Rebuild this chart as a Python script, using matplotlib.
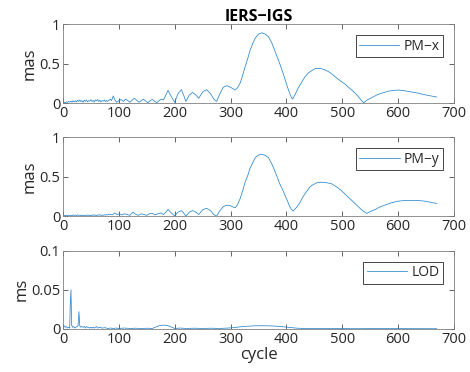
import numpy as np
import matplotlib
matplotlib.use("Agg")
import matplotlib.pyplot as plt

plt.rcParams["font.family"] = ["Open Sans", "DejaVu Sans"]

# Amplitude spectra of EOP differences (IERS minus IGS), read per cycle
pmx_cycle = [
    0, 2, 4, 6, 8, 10, 12, 14, 16, 18, 20, 22, 24, 26, 28, 30, 32, 34, 36, 38,
    40, 42, 44, 46, 48, 50, 52, 54, 56, 58, 60, 62, 64, 66, 68, 70, 72, 74, 76, 78,
    80, 82, 85, 87, 90, 93, 96, 100, 104, 108, 112, 116, 120, 124, 128, 132, 136,
    140, 144, 148, 152, 156, 160, 164, 168, 172, 176, 180, 184,
    188, 194, 200, 206, 212, 216, 220, 226, 232, 238, 243, 250, 257, 264, 270, 275,
    281, 287, 293, 300, 308, 312, 317, 322, 326, 331, 335, 340, 344, 350, 356, 362,
    368, 374, 380, 384, 388, 393, 397, 402, 406, 409, 411, 415, 421, 427, 433, 439,
    445, 451, 457, 463, 469, 475, 481, 487, 493, 499, 505, 511, 517, 523, 529, 534,
    538, 545, 553, 558, 564, 573, 582, 591, 600, 612, 624, 636, 648, 659, 669,
]
pmx_amp = [
    0.000, 0.010, 0.004, 0.015, 0.008, 0.020, 0.012, 0.025, 0.010, 0.030, 0.015,
    0.028, 0.012, 0.035, 0.020, 0.040, 0.018, 0.030, 0.010, 0.035, 0.022, 0.038,
    0.015, 0.030, 0.025, 0.042, 0.020, 0.033, 0.012, 0.040, 0.030, 0.045, 0.020,
    0.036, 0.015, 0.030, 0.025, 0.040, 0.018, 0.032, 0.020, 0.035, 0.050, 0.030,
    0.090, 0.040, 0.010, 0.030, 0.045, 0.020, 0.050, 0.030, 0.010, 0.040, 0.060,
    0.035, 0.010, 0.030, 0.050, 0.025, 0.005, 0.030, 0.045, 0.020, 0.005, 0.030,
    0.050, 0.040, 0.100,
    0.160, 0.080, 0.010, 0.120, 0.170, 0.100, 0.020, 0.100, 0.135, 0.100, 0.060,
    0.140, 0.170, 0.120, 0.050, 0.020, 0.120, 0.200, 0.220, 0.200, 0.165, 0.190,
    0.250, 0.360, 0.460, 0.570, 0.670, 0.760, 0.820, 0.875, 0.890, 0.875, 0.840,
    0.760, 0.650, 0.575, 0.500, 0.400, 0.310, 0.200, 0.120, 0.070, 0.050, 0.100,
    0.190, 0.260, 0.330, 0.380, 0.410, 0.435, 0.440, 0.435, 0.420, 0.400, 0.370,
    0.335, 0.300, 0.270, 0.240, 0.200, 0.165, 0.125, 0.080, 0.035, 0.005, 0.040,
    0.070, 0.090, 0.110, 0.130, 0.150, 0.160, 0.165, 0.155, 0.140, 0.125, 0.105,
    0.090, 0.076,
]

pmy_cycle = [
    0, 2, 4, 6, 8, 10, 12, 14, 16, 18, 20, 22, 24, 26, 28, 30, 32, 34, 36, 38,
    40, 42, 44, 46, 48, 50, 52, 54, 56, 58, 60, 62, 64, 66, 68, 70, 72, 74, 76, 78,
    80, 84, 88, 93, 97, 101, 105, 110, 115, 120, 125, 130, 135, 140, 145, 150,
    155, 160, 165, 170, 175, 180, 184,
    188, 194, 200, 206, 212, 216, 220, 226, 232, 238, 243, 250, 257, 264, 270, 275,
    281, 287, 293, 300, 308, 312, 317, 322, 326, 331, 335, 340, 344, 350, 356, 362,
    368, 374, 380, 384, 388, 393, 397, 402, 406, 409, 412, 418, 424, 430, 436, 442,
    448, 455, 463, 471, 481, 490, 499, 508, 517, 525, 532, 538, 544, 551, 559, 567,
    576, 588, 600, 612, 624, 636, 648, 659, 669,
]
pmy_amp = [
    0.002, 0.010, 0.004, 0.012, 0.006, 0.014, 0.008, 0.012, 0.005, 0.015, 0.009,
    0.013, 0.006, 0.016, 0.010, 0.012, 0.004, 0.014, 0.008, 0.011, 0.006, 0.015,
    0.010, 0.013, 0.005, 0.012, 0.008, 0.018, 0.010, 0.014, 0.006, 0.016, 0.012,
    0.020, 0.008, 0.015, 0.010, 0.018, 0.012, 0.020, 0.015, 0.025, 0.015, 0.040,
    0.020, 0.030, 0.015, 0.030, 0.020, 0.010, 0.050, 0.025, 0.010, 0.030, 0.020,
    0.010, 0.030, 0.035, 0.015, 0.030, 0.040, 0.020, 0.050,
    0.085, 0.040, 0.005, 0.050, 0.070, 0.040, 0.000, 0.050, 0.070, 0.050, 0.020,
    0.080, 0.100, 0.070, 0.020, 0.000, 0.070, 0.120, 0.140, 0.130, 0.105, 0.140,
    0.220, 0.330, 0.430, 0.520, 0.610, 0.680, 0.740, 0.775, 0.785, 0.770, 0.740,
    0.660, 0.560, 0.485, 0.410, 0.340, 0.270, 0.190, 0.120, 0.085, 0.065, 0.110,
    0.170, 0.250, 0.310, 0.370, 0.400, 0.425, 0.430, 0.425, 0.410, 0.370, 0.320,
    0.260, 0.200, 0.145, 0.097, 0.060, 0.035, 0.060, 0.085, 0.115, 0.140, 0.170,
    0.190, 0.198, 0.200, 0.198, 0.190, 0.175, 0.160,
]

lod_cycle = [
    0, 2, 4, 6, 8, 10, 12, 13, 14.3, 15.5, 17, 19, 21, 23, 25, 27, 28.6, 30, 32,
    34, 36, 38, 40, 42, 44, 46, 48, 50, 52, 54, 56, 58, 60, 62, 66, 70, 75, 80,
    85, 90, 95, 100, 110, 120, 130, 140, 150, 160, 165, 172, 180, 188, 195, 200,
    210, 220, 235, 250, 265, 280, 295, 305, 320, 340, 356, 372, 390, 405, 420,
    440, 470, 500, 530, 560, 600, 640, 669,
]
lod_amp = [
    0.0010, 0.0040, 0.0020, 0.0030, 0.0010, 0.0020, 0.0010, 0.0300, 0.0500,
    0.0050, 0.0020, 0.0030, 0.0010, 0.0020, 0.0030, 0.0040, 0.0220, 0.0040,
    0.0020, 0.0030, 0.0020, 0.0030, 0.0010, 0.0030, 0.0020, 0.0020, 0.0010,
    0.0020, 0.0010, 0.0020, 0.0010, 0.0020, 0.0030, 0.0010, 0.0020, 0.0010,
    0.0015, 0.0005, 0.0010, 0.0005, 0.0010, 0.0005, 0.0010, 0.0005, 0.0008,
    0.0003, 0.0008, 0.0005, 0.0020, 0.0040, 0.0048, 0.0040, 0.0020, 0.0005,
    0.0010, 0.0005, 0.0008, 0.0005, 0.0008, 0.0005, 0.0010, 0.0015, 0.0028,
    0.0038, 0.0040, 0.0038, 0.0030, 0.0018, 0.0008, 0.0003, 0.0005, 0.0003,
    0.0002, 0.0004, 0.0003, 0.0002, 0.0002,
]

panels = [
    (pmx_cycle, pmx_amp, "PM\u2212x", "mas", (0, 1), [0, 0.5, 1], ["0", "0.5", "1"]),
    (pmy_cycle, pmy_amp, "PM\u2212y", "mas", (0, 1), [0, 0.5, 1], ["0", "0.5", "1"]),
    (lod_cycle, lod_amp, "LOD", "ms", (0, 0.1), [0, 0.05, 0.1], ["0", "0.05", "0.1"]),
]

line_color = "#2a86cc"
axis_color = "#262626"

fig = plt.figure(figsize=(4.70, 3.72), dpi=100)
fig.patch.set_facecolor("white")

# Axes boxes in figure coordinates (left, bottom, width, height)
boxes = [
    (0.134, 0.723, 0.832, 0.212),
    (0.134, 0.419, 0.832, 0.212),
    (0.134, 0.116, 0.832, 0.210),
]

for (cyc, amp, name, unit, ylim, yt, ytl), box in zip(panels, boxes):
    ax = fig.add_axes(box)
    ax.plot(cyc, amp, color=line_color, lw=0.55, label=name)
    ax.set_xlim(0, 700)
    ax.set_ylim(*ylim)
    ax.set_xticks(np.arange(0, 701, 100))
    ax.set_yticks(yt)
    ax.set_yticklabels(ytl)
    ax.set_ylabel(unit, fontsize=12, color=axis_color, labelpad=1)
    ax.tick_params(direction="in", length=3.5, width=0.5, top=True, right=True,
                   labelsize=10.5, colors=axis_color, pad=2)
    for sp in ax.spines.values():
        sp.set_linewidth(0.6)
        sp.set_color("#808080")
    leg = ax.legend(loc="upper right", fontsize=10, handlelength=2.9,
                    fancybox=False, framealpha=1, edgecolor=axis_color,
                    borderaxespad=0.8, borderpad=0.25, handletextpad=0.3)
    leg.get_frame().set_linewidth(0.6)
    for t in leg.get_texts():
        t.set_color(axis_color)
    if name == "PM\u2212x":
        ax.set_title("IERS\u2212IGS", fontsize=11.5, fontweight="bold",
                     color="black", pad=2)
    if name == "LOD":
        ax.set_xlabel("cycle", fontsize=12, color=axis_color, labelpad=0)

fig.savefig("out.png", dpi=100)
